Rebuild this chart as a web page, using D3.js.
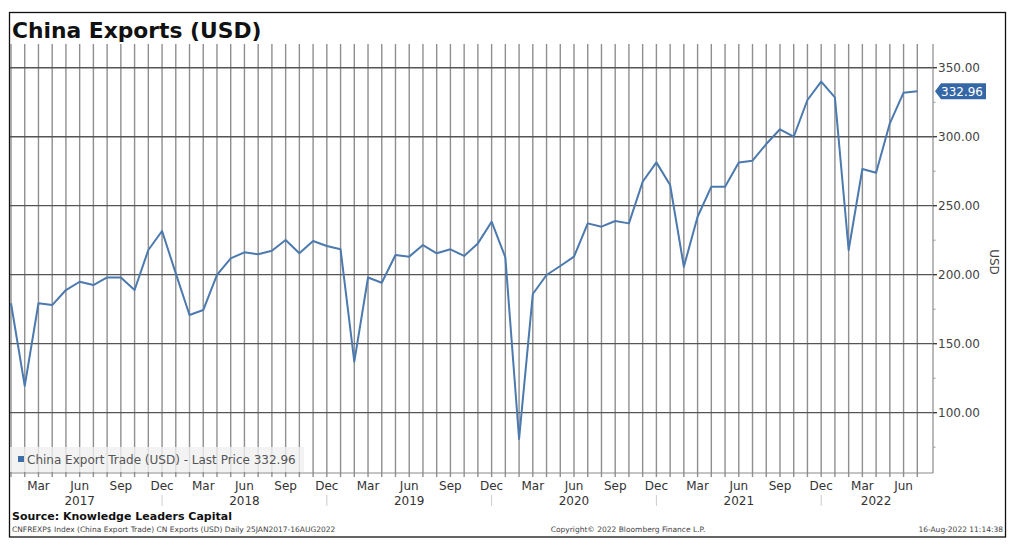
<!DOCTYPE html>
<html>
<head>
<meta charset="utf-8">
<script src="https://cdn.jsdelivr.net/npm/d3@7"></script>
<style>
  body { margin: 0; background: #fff; }
  svg text { font-family: "DejaVu Sans", sans-serif; }
</style>
</head>
<body>
<div id="chart"></div>
<script>
// monthly points, Jan 2017 .. Jul 2022
const startYear = 2017
const startMonth = 0
const values = [
  179.3, 119.5, 179.3, 178.0, 188.9, 194.9, 192.5, 198.0, 198.0, 188.9, 217.9, 231.7,
  201.0, 170.8, 174.4, 199.8, 211.9, 216.2, 214.8, 217.4, 225.1, 215.5, 224.4, 220.8,
  218.4, 137.0, 198.0, 194.2, 214.3, 213.1, 221.5, 215.5, 218.4, 213.6, 222.7, 238.4,
  212.6, 81.0, 186.0, 199.8, 206.3, 213.1, 237.2, 234.8, 238.9, 237.2, 267.4, 281.4,
  265.0, 205.8, 242.0, 263.8, 263.8, 281.4, 282.6, 294.7, 305.4, 300.0, 326.6, 339.9,
  328.5, 217.9, 276.6, 273.9, 309.7, 331.9, 332.96
]
const monthNames = ["Jan","Feb","Mar","Apr","May","Jun","Jul","Aug","Sep","Oct","Nov","Dec"]
const labelMonths = ["Mar","Jun","Sep","Dec"]
const yMajor = [100, 150, 200, 250, 300, 350]
const yMinor = [75, 125, 175, 225, 275, 325]
const lastPrice = 332.96

const categories = values.map((v, i) => {
  const m = startMonth + i
  return { key: (startYear + Math.floor(m / 12)) + "-" + (m % 12), year: startYear + Math.floor(m / 12), month: monthNames[m % 12] }
})

const W = 1018, H = 548
const pLeft = 10, pRight = 933, pTop = 44, pBottom = 473

const svg = d3.select("#chart").append("svg")
  .attr("width", W)
  .attr("height", H)

// frame
svg.append("rect")
  .attr("x", 9.5).attr("y", 12.5)
  .attr("width", 996).attr("height", 524.5)
  .attr("fill", "none").attr("stroke", "#111").attr("stroke-width", 1.3)

svg.append("text")
  .attr("x", 12).attr("y", 38)
  .attr("font-size", 21.8).attr("font-weight", "bold").attr("fill", "#111")
  .text("China Exports (USD)")

const x = d3.scalePoint()
  .domain(categories.map(d => d.key))
  .range([11, 917.3])

const y = d3.scaleLinear()
  .domain([56.3, 367.2])
  .range([pBottom, pTop])

// vertical month grid
svg.append("g").selectAll("line")
  .data(categories)
  .enter().append("line")
    .attr("x1", d => x(d.key)).attr("x2", d => x(d.key))
    .attr("y1", pTop).attr("y2", pBottom + 4)
    .attr("stroke", "#8f8f8f").attr("stroke-width", 1.4)

// horizontal grid
svg.append("g").selectAll("line")
  .data(yMajor)
  .enter().append("line")
    .attr("x1", pLeft).attr("x2", pRight)
    .attr("y1", d => y(d)).attr("y2", d => y(d))
    .attr("stroke", "#555").attr("stroke-width", 1.3)

// bottom axis line
svg.append("line")
  .attr("x1", pLeft).attr("x2", pRight)
  .attr("y1", pBottom).attr("y2", pBottom)
  .attr("stroke", "#8a8a8a").attr("stroke-width", 1.2)

// right axis
const yAxis = svg.append("g").attr("transform", `translate(${pRight},0)`)
yAxis.append("line").attr("y1", pTop).attr("y2", pBottom).attr("stroke", "#8a8a8a").attr("stroke-width", 1.2)
yAxis.selectAll(".maj").data(yMajor).enter().append("line")
  .attr("x1", 0).attr("x2", 4).attr("y1", d => y(d)).attr("y2", d => y(d))
  .attr("stroke", "#333").attr("stroke-width", 1.3)
yAxis.selectAll(".min").data(yMinor).enter().append("line")
  .attr("x1", 0).attr("x2", 2.5).attr("y1", d => y(d)).attr("y2", d => y(d))
  .attr("stroke", "#999").attr("stroke-width", 1)
yAxis.selectAll("text").data(yMajor).enter().append("text")
  .attr("x", 5).attr("y", d => y(d)).attr("dy", "0.35em")
  .attr("font-size", 12).attr("fill", "#444")
  .text(d => d.toFixed(2))

svg.append("text")
  .attr("transform", "translate(990,262) rotate(90)")
  .attr("text-anchor", "middle")
  .attr("font-size", 12).attr("fill", "#444")
  .text("USD")

// legend
svg.append("rect")
  .attr("x", pLeft).attr("y", 447)
  .attr("width", 294).attr("height", 25)
  .attr("fill", "#f0f0f0").attr("opacity", 0.8)
svg.append("rect")
  .attr("x", 18).attr("y", 456).attr("width", 6).attr("height", 6)
  .attr("fill", "#3f6fa8")
svg.append("text")
  .attr("x", 27).attr("y", 464)
  .attr("font-size", 12).attr("fill", "#555")
  .text("China Export Trade (USD) - Last Price " + lastPrice.toFixed(2))

// series
const line = d3.line()
  .x((d, i) => x(categories[i].key))
  .y(d => y(d))
svg.append("path")
  .datum(values)
  .attr("d", line)
  .attr("fill", "none")
  .attr("stroke", "#4c79ae")
  .attr("stroke-width", 2)
  .attr("stroke-linejoin", "round")

// last price tag
const ty = y(lastPrice)
const tag = svg.append("g")
tag.append("path")
  .attr("d", `M${pRight + 2},${ty} L${pRight + 8},${ty - 8} L${pRight + 53},${ty - 8} L${pRight + 53},${ty + 8} L${pRight + 8},${ty + 8} Z`)
  .attr("fill", "#3567a6")
tag.append("text")
  .attr("x", pRight + 8).attr("y", ty).attr("dy", "0.36em")
  .attr("font-size", 12).attr("fill", "#fff")
  .text(lastPrice.toFixed(2))

// month labels
svg.append("g").selectAll("text")
  .data(categories.filter(d => labelMonths.includes(d.month)))
  .enter().append("text")
    .attr("x", d => x(d.key)).attr("y", 490)
    .attr("text-anchor", "middle")
    .attr("font-size", 12).attr("fill", "#333")
    .text(d => d.month)

// year labels, centred on the middle visible month
const years = d3.groups(categories, d => d.year)
svg.append("g").selectAll("text")
  .data(years)
  .enter().append("text")
    .attr("x", d => x(d[1][Math.floor((d[1].length - 1) / 2)].key))
    .attr("y", 505)
    .attr("text-anchor", "middle")
    .attr("font-size", 12).attr("fill", "#333")
    .text(d => d[0])

// year separators under Dec
svg.append("g").selectAll("line")
  .data(categories.filter(d => d.month === "Dec"))
  .enter().append("line")
    .attr("x1", d => x(d.key)).attr("x2", d => x(d.key))
    .attr("y1", 495).attr("y2", 506)
    .attr("stroke", "#ccc").attr("stroke-width", 1)

svg.append("text")
  .attr("x", 12).attr("y", 520)
  .attr("font-size", 11).attr("font-weight", "bold").attr("fill", "#111")
  .text("Source: Knowledge Leaders Capital")

const foot = svg.append("g").attr("font-size", 7.5).attr("fill", "#444")
foot.append("text").attr("x", 12).attr("y", 532)
  .text("CNFREXP$ Index (China Export Trade) CN Exports (USD)  Daily 25JAN2017-16AUG2022")
foot.append("text").attr("x", 628).attr("y", 532).attr("text-anchor", "middle")
  .text("Copyright\u00a9 2022 Bloomberg Finance L.P.")
foot.append("text").attr("x", 1003).attr("y", 532).attr("text-anchor", "end")
  .text("16-Aug-2022 11:14:38")
</script>
</body>
</html>
